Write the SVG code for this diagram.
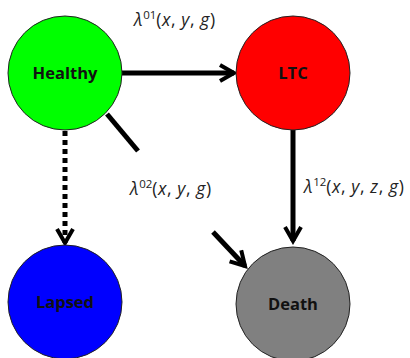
<svg xmlns="http://www.w3.org/2000/svg" width="410" height="358" viewBox="0 0 410 358">
<style>
.node{stroke:#222;stroke-width:1}
.lbl{font-family:"Open Sans","Liberation Sans",sans-serif;font-weight:bold;font-size:16.5px;text-anchor:middle;fill:#111}
.edge{stroke:#000;stroke-width:5;fill:none}
.math{font-family:"Open Sans","Liberation Sans",sans-serif;font-size:17.5px;letter-spacing:0.6px;fill:#222}
.it{font-style:italic}
.sup{font-size:11.5px;letter-spacing:0}
</style>
<defs>
<marker id="ah" viewBox="0 0 10 10" refX="8" refY="5" markerWidth="4" markerHeight="4" orient="auto" markerUnits="strokeWidth">
<path d="M1,1 L8,5 L1,9" fill="none" stroke="#000" stroke-width="2"/>
</marker>
</defs>
<g id="connectors">
<line class="edge" x1="122" y1="73" x2="234" y2="73" marker-end="url(#ah)"/>
<line class="edge" x1="293" y1="130" x2="293" y2="241" marker-end="url(#ah)"/>
<line class="edge" x1="65" y1="131" x2="65" y2="243" stroke-dasharray="5,4" marker-end="url(#ah)"/>
<line class="edge" x1="107" y1="114" x2="138" y2="151"/>
<line class="edge" x1="213" y1="232" x2="245" y2="266" marker-end="url(#ah)"/>
</g>
<g id="healthy"><circle class="node" cx="65" cy="73" r="57" fill="#00ff00"/><text class="lbl" x="65" y="79">Healthy</text></g>
<g id="ltc"><circle class="node" cx="293" cy="73" r="57" fill="#ff0000"/><text class="lbl" x="293" y="79">LTC</text></g>
<g id="lapsed"><circle class="node" cx="65" cy="302" r="57" fill="#0000ff"/><text class="lbl" x="65" y="308">Lapsed</text></g>
<g id="death"><circle class="node" cx="293" cy="304" r="57" fill="#808080"/><text class="lbl" x="293" y="310">Death</text></g>
<g id="labels">
<text class="math" x="134" y="26"><tspan class="it">λ</tspan><tspan class="sup" dy="-7">01</tspan><tspan dy="7">(</tspan><tspan class="it">x</tspan>, <tspan class="it">y</tspan>, <tspan class="it">g</tspan>)</text>
<text class="math" x="130" y="195"><tspan class="it">λ</tspan><tspan class="sup" dy="-7">02</tspan><tspan dy="7">(</tspan><tspan class="it">x</tspan>, <tspan class="it">y</tspan>, <tspan class="it">g</tspan>)</text>
<text class="math" x="304" y="193"><tspan class="it">λ</tspan><tspan class="sup" dy="-7">12</tspan><tspan dy="7">(</tspan><tspan class="it">x</tspan>, <tspan class="it">y</tspan>, <tspan class="it">z</tspan>, <tspan class="it">g</tspan>)</text>
</g>
</svg>
